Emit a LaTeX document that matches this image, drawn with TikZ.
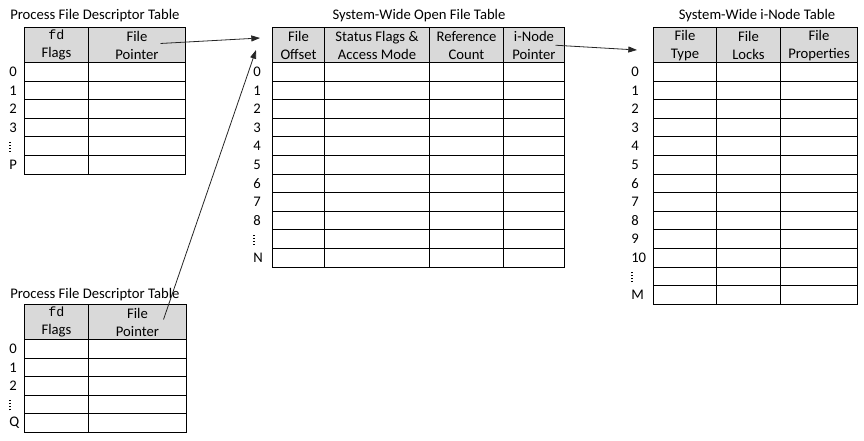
\documentclass[tikz,border=0pt]{standalone}
\usepackage{fontspec}
\setmainfont{Carlito}
\setmonofont{Liberation Mono}
\usetikzlibrary{arrows.meta,calc}
\definecolor{tbGray}{HTML}{D9D9D9}
\definecolor{tbLine}{HTML}{000000}
% short dotted mark for skipped rows
\newcommand{\rowdots}{\tikz[baseline=0pt]\draw[line width=0.9pt, dash pattern=on 0.9pt off 1.3pt] (0,-0.3pt) -- (0,8.2pt);}
% one table: name, top, label x, row labels, columns x0/x1/header
\newcommand{\fstable}[5]{
  \foreach \xa/\xb/\hd [count=\c] in {#5}{
    \node[hdr, minimum width={(\xb-\xa)*0.75pt}, anchor=north west] (#1-h\c) at (\xa,#2) {\hd};
    \foreach \lb [count=\r] in {#4}{
      \draw[cellln] (\xa,{#2+35.5+(\r-1)*18.6}) rectangle (\xb,{#2+35.5+\r*18.6});
    }
  }
  \foreach \lb [count=\r] in {#4}{\node[rowlb] (#1-r\r) at (#3,{#2+35.5+(\r-0.5)*18.6}) {\lb};}}

\begin{document}
\begin{tikzpicture}[x=0.75pt, y=-0.75pt,
  hdr/.style={draw=tbLine, fill=tbGray, line width=0.75pt, inner sep=0pt, minimum height=26.6pt, align=center, font=\fontsize{11}{13.5}\selectfont},
  cellln/.style={draw=tbLine, line width=0.75pt},
  rowlb/.style={anchor=west, inner sep=0pt, font=\fontsize{11}{13.5}\selectfont},
  ttl/.style={inner sep=0pt, font=\fontsize{11}{13.5}\selectfont},
  ptr/.style={-{Triangle[length=6.5pt, width=4.5pt]}, line width=0.6pt, black!85}]
\useasboundingbox (0,0) rectangle (864,441);

% ── process tables
\node[ttl, anchor=west] (fdA-t) at (10,16) {Process File Descriptor Table};
\fstable{fdA}{27}{9}{0,1,2,3,{\rowdots},P}{24/88/{{\fontsize{10}{13.5}\selectfont\texttt{fd}}\\Flags},88/185/{File\\Pointer}}
\node[ttl, anchor=west] (fdB-t) at (10,295) {Process File Descriptor Table};
\fstable{fdB}{304}{9}{0,1,2,{\rowdots},Q}{24/88/{{\fontsize{10}{13.5}\selectfont\texttt{fd}}\\Flags},88/186/{File\\Pointer}}

% ── open file table
\node[ttl] (oft-t) at (419,16) {System-Wide Open File Table};
\fstable{oft}{27}{253}{0,1,2,3,4,5,6,7,8,{\rowdots},N}{272/324/{File\\Offset},324/429/{Status Flags \&\\Access Mode},429/503/{Reference\\Count},503/564/{i-Node\\Pointer}}

% ── i-node table
\node[ttl] (ino-t) at (757,16) {System-Wide i-Node Table};
\fstable{ino}{27}{631}{0,1,2,3,4,5,6,7,8,9,10,{\rowdots},M}{653/716/{File\\Type},716/780/{File\\Locks},780/857/{File\\Properties}}

% ── pointers
\coordinate (oft-inA) at (260,38);
\coordinate (oft-inB) at (256,50);
\coordinate (ino-in) at (637,50);
\draw[ptr] ($(fdA-h2.center)+(23.5,-1.75)$) -- (oft-inA);
\draw[ptr] ($(fdB-h2.center)+(26,-2.75)$) -- (oft-inB);
\draw[ptr] ($(oft-h4.center)+(21.5,0)$) -- (ino-in);
\end{tikzpicture}
\end{document}
